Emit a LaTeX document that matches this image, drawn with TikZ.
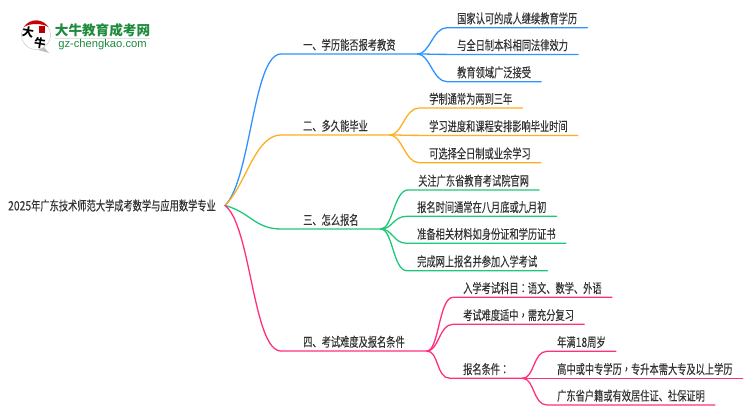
\documentclass[tikz,border=0pt]{standalone}
\usepackage{fontspec}
\newfontfamily\cjk[FakeStretch=0.71, FakeBold=0.12]{Noto Sans CJK SC}
\newfontfamily\cjkpunct[FakeStretch=0.71, FakeBold=0.12]{Noto Sans CJK TC}
\newfontfamily\cjkdigit[FakeStretch=0.8, FakeBold=0.12]{Noto Sans CJK SC}
\newfontfamily\cjklogo{Noto Sans CJK SC}
\setsansfont{Liberation Sans}
\definecolor{inkgray}{HTML}{333333}
\definecolor{oneblue}{HTML}{2E93FF}
\definecolor{twoorange}{HTML}{FFAE1F}
\definecolor{threegreen}{HTML}{1FC878}
\definecolor{fourpink}{HTML}{FF2E7E}
\definecolor{logogreen}{HTML}{1E8A3C}
\begin{document}
\begin{tikzpicture}[x=1pt, y=-1pt, line cap=round,
	every node/.style={font=\cjk\fontsize{13}{15}\selectfont, text=inkgray, inner ysep=3pt},
	leaf/.style={anchor=south west, inner xsep=10pt},
	topic/.style={anchor=south west, inner xsep=22pt},
	branch/.style={line width=1.3pt, draw=#1}]
	\useasboundingbox (0,0) rectangle (750,410);
	% logo
	\fill[black!25] (44,47) -- (49,53) -- (38,50) -- cycle;
	\draw[black!25, fill=white] (36,35) circle (14.5);
	\fill[red!80!black] (24,27) arc (213:327:14.5) .. controls (42,23) and (30,23) .. cycle;
	\fill[red!70!black] (39,26) rectangle (45,33);
	\node[font=\cjklogo\bfseries\fontsize{11.5}{12}\selectfont, text=black, inner sep=0pt, rotate=-10] (logoda) at (28,32) {大};
	\node[font=\cjklogo\bfseries\fontsize{11.5}{12}\selectfont, text=black, inner sep=0pt, rotate=-10] (logoniu) at (40,43) {牛};
	\node[font=\cjklogo\bfseries\fontsize{13.6}{14}\selectfont, text=logogreen, inner sep=0pt] (logoname) at (102.5,30) {大牛教育成考网};
	\fill[black!12] (55,38) rectangle (150,39);
	\node[font=\sffamily\fontsize{11.2}{12}\selectfont, text=logogreen, inner sep=0pt] (logourl) at (102.5,45) {gz-chengkao.com};
	% root
	\node[anchor=east, inner xsep=9pt] (root) at (225,205.5) {{\cjkdigit 2025}年广东技术师范大学成考数学与应用数学专业};
	% topics
	\node[topic] (one) at (281,54) {一、学历能否报考教资};
	\node[topic] (two) at (281,135) {二、多久能毕业};
	\node[topic] (three) at (281,229) {三、怎么报名};
	\node[topic] (four) at (281,351) {四、考试难度及报名条件};
	% leaves
	\node[leaf] (oneA) at (447,27.7) {国家认可的成人继续教育学历};
	\node[leaf] (oneB) at (447,54.4) {与全日制本科相同法律效力};
	\node[leaf] (oneC) at (447,81.7) {教育领域广泛接受};
	\node[leaf] (twoA) at (419,108) {学制通常为两到三年};
	\node[leaf] (twoB) at (419,135.4) {学习进度和课程安排影响毕业时间};
	\node[leaf] (twoC) at (419,162.7) {可选择全日制或业余学习};
	\node[leaf] (threeA) at (408,190) {关注广东省教育考试院官网};
	\node[leaf] (threeB) at (407,216.3) {报名时间通常在八月底或九月初};
	\node[leaf] (threeC) at (407,243.3) {准备相关材料如身份证和学历证书};
	\node[leaf] (threeD) at (407,270.7) {完成网上报名并参加入学考试};
	\node[leaf] (fourA) at (453,297.3) {入学考试科目{\cjkpunct ：}语文、数学、外语};
	\node[leaf] (fourB) at (453,324.3) {考试难度适中{\cjkpunct ，}需充分复习};
	\node[leaf, inner xsep=13pt] (fourC) at (450,378.3) {报名条件{\cjkpunct ：}};
	\node[leaf] (fourCa) at (547,351.3) {年满{\cjkdigit 18}周岁};
	\node[leaf] (fourCb) at (547,378.3) {高中或中专学历{\cjkpunct ，}专升本需大专及以上学历};
	\node[leaf] (fourCc) at (547,405) {广东省户籍或有效居住证、社保证明};
	% connectors from the root
	\draw[branch=oneblue] (root.east) .. controls (251,180) and (253,54) .. (one.south west) -- (one.south east);
	\draw[branch=twoorange] (root.east) .. controls (246,185) and (255,135) .. (two.south west) -- (two.south east);
	\draw[branch=threegreen] (root.east) .. controls (250,212) and (255,229) .. (three.south west) -- (three.south east);
	\draw[branch=fourpink] (root.east) .. controls (251,225) and (253,351) .. (four.south west) -- (four.south east);
	% connectors to the leaves
	\foreach \from/\to/\col in {one/oneA/oneblue, one/oneB/oneblue, one/oneC/oneblue,
		two/twoA/twoorange, two/twoB/twoorange, two/twoC/twoorange,
		three/threeA/threegreen, three/threeB/threegreen, three/threeC/threegreen, three/threeD/threegreen,
		four/fourA/fourpink, four/fourB/fourpink, four/fourC/fourpink,
		fourC/fourCa/fourpink, fourC/fourCb/fourpink, fourC/fourCc/fourpink}
		\draw[branch=\col] (\from.south east) .. controls +(12,0) and +(-14,0) .. (\to.south west) -- (\to.south east);
\end{tikzpicture}
\end{document}
